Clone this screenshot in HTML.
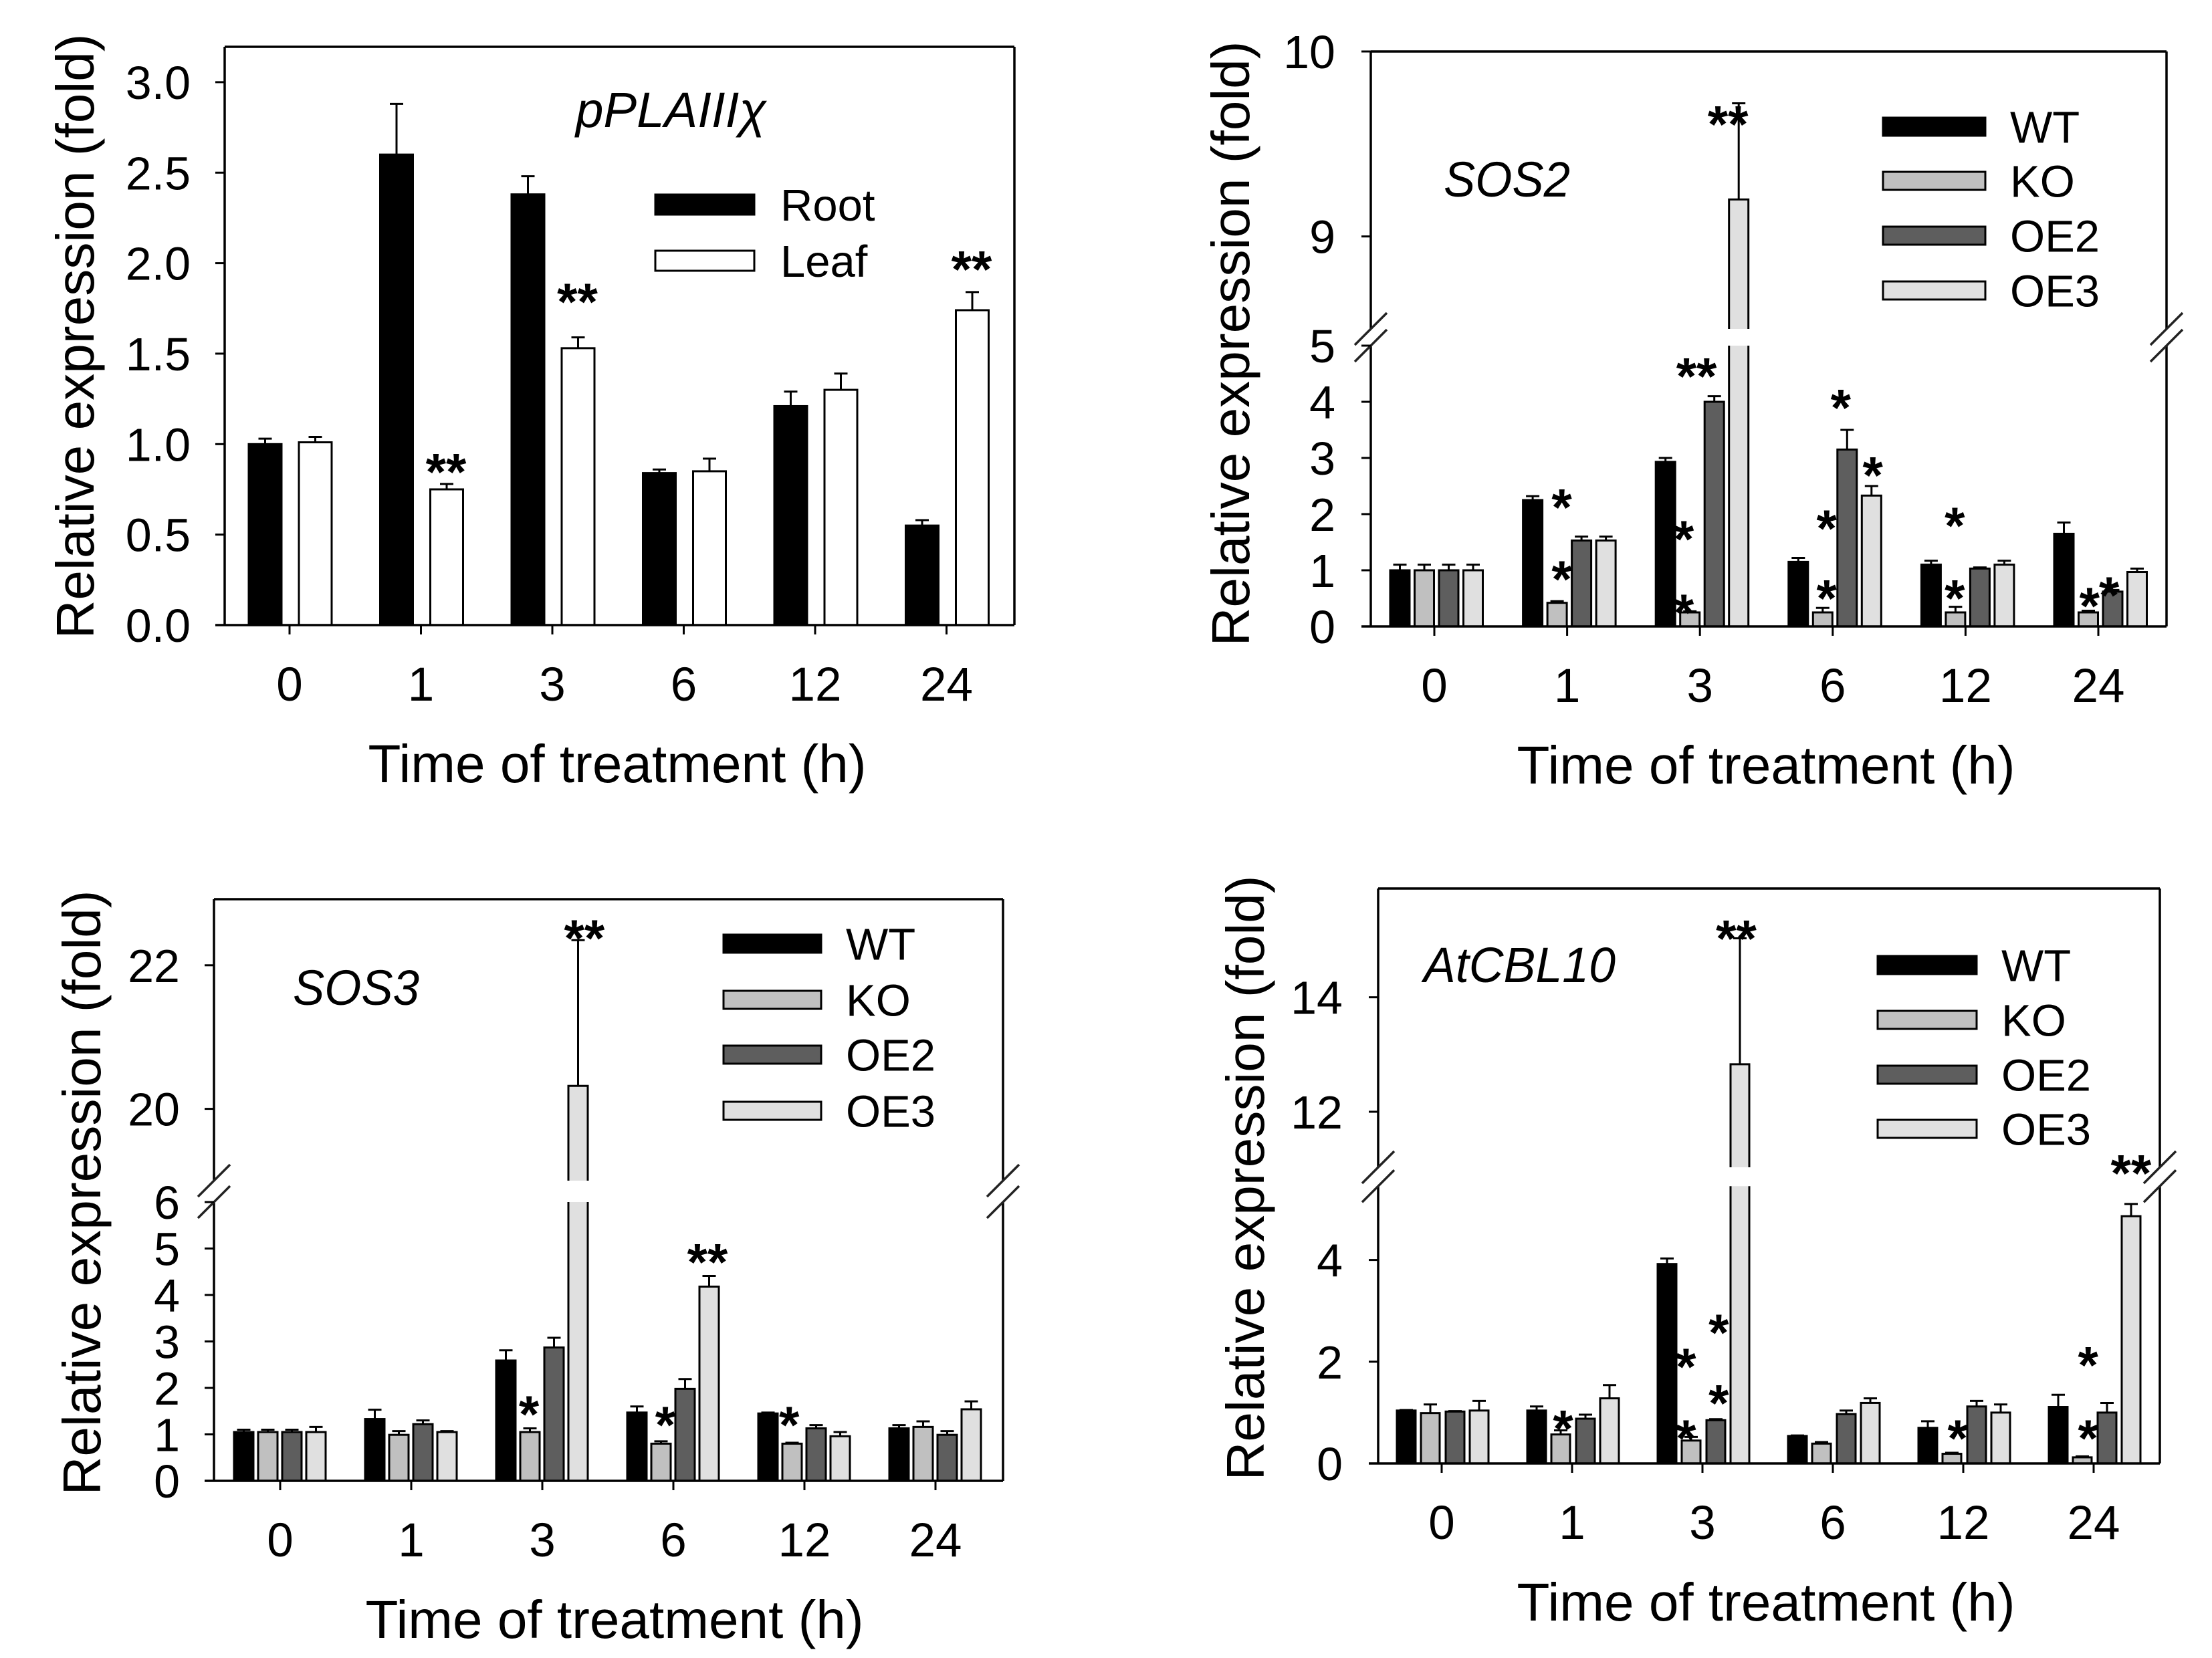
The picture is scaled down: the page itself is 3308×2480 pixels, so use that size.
<!DOCTYPE html>
<html><head><meta charset="utf-8"><style>
html,body{margin:0;padding:0;background:#fff;}
svg{display:block;}
text{font-family:"Liberation Sans",Arial,sans-serif;fill:#000;}
</style></head><body>
<svg id="fig" xmlns="http://www.w3.org/2000/svg" width="3308" height="2480" viewBox="0 0 3308 2480"></svg>
<script>
// ---------- DATA ----------
const categories = ['0','1','3','6','12','24'];

// Panel A: pPLAIIIχ
const pplaRoot    = [1.00, 2.60, 2.38, 0.84, 1.21, 0.55];
const pplaRootErr = [1.03, 2.88, 2.48, 0.86, 1.29, 0.58];
const pplaLeaf    = [1.01, 0.75, 1.53, 0.85, 1.30, 1.74];
const pplaLeafErr = [1.04, 0.78, 1.59, 0.92, 1.39, 1.84];
const pplaTicks   = [0, 0.5, 1.0, 1.5, 2.0, 2.5, 3.0];
const pplaTickLabels = ['0.0','0.5','1.0','1.5','2.0','2.5','3.0'];
const pplaStars = [[1,1,0.91,'**'],[2,1,1.85,'**'],[5,1,2.03,'**']];

// Panel B: SOS2
const sos2WT     = [1.00, 2.25, 2.93, 1.15, 1.10, 1.65];
const sos2WTErr  = [1.10, 2.32, 3.00, 1.22, 1.17, 1.85];
const sos2KO     = [1.00, 0.42, 0.25, 0.25, 0.25, 0.25];
const sos2KOErr  = [1.10, 0.45, 0.27, 0.33, 0.35, 0.28];
const sos2OE2    = [1.00, 1.53, 4.00, 3.15, 1.03, 0.62];
const sos2OE2Err = [1.10, 1.60, 4.10, 3.50, 1.05, 0.65];
const sos2OE3    = [1.00, 1.53, 9.20, 2.33, 1.10, 0.97];
const sos2OE3Err = [1.10, 1.60, 9.72, 2.50, 1.17, 1.03];
const sos2Ticks  = [0,1,2,3,4,5,9,10];
const sos2TickLabels = ['0','1','2','3','4','5','9','10'];
const sos2Stars = [[2,2.56,9.67,'**'],[1,1.19,2.33,'*'],[1,1.19,1.05,'*'],[2,1.27,4.66,'**'],[2,0.75,1.76,'*'],[2,0.75,0.45,'*'],
  [3,1.74,4.10,'*'],[3,1.16,1.95,'*'],[3,1.16,0.71,'*'],[3,3.05,2.90,'*'],[4,0.97,2.0,'*'],[4,0.97,0.71,'*'],[5,1.05,0.57,'*'],[5,1.85,0.76,'*']];

// Panel C: SOS3
const sos3WT     = [1.05, 1.33, 2.59, 1.47, 1.45, 1.13];
const sos3WTErr  = [1.10, 1.53, 2.81, 1.60, 1.47, 1.20];
const sos3KO     = [1.05, 0.99, 1.05, 0.80, 0.80, 1.16];
const sos3KOErr  = [1.10, 1.07, 1.13, 0.85, 0.82, 1.28];
const sos3OE2    = [1.05, 1.22, 2.87, 1.98, 1.13, 0.99];
const sos3OE2Err = [1.10, 1.30, 3.08, 2.19, 1.20, 1.07];
const sos3OE3    = [1.05, 1.05, 20.32, 4.18, 0.96, 1.54];
const sos3OE3Err = [1.16, 1.07, 22.35, 4.41, 1.05, 1.71];
const sos3Ticks  = [0,1,2,3,4,5,6,20,22];
const sos3TickLabels = ['0','1','2','3','4','5','6','20','22'];
const sos3Stars = [[2,3.26,22.54,'**'],[2,0.96,1.68,'*'],[3,2.93,4.96,'**'],[3,1.18,1.45,'*'],[4,0.88,1.45,'*']];

// Panel D: AtCBL10
const cblWT     = [1.04, 1.04, 3.92, 0.54, 0.70, 1.11];
const cblWTErr  = [1.05, 1.12, 4.03, 0.55, 0.83, 1.35];
const cblKO     = [0.99, 0.57, 0.45, 0.39, 0.19, 0.12];
const cblKOErr  = [1.16, 0.65, 0.52, 0.42, 0.21, 0.14];
const cblOE2    = [1.02, 0.88, 0.85, 0.97, 1.12, 1.00];
const cblOE2Err = [1.03, 0.96, 0.87, 1.04, 1.23, 1.19];
const cblOE3    = [1.04, 1.28, 12.83, 1.19, 1.00, 4.86];
const cblOE3Err = [1.23, 1.54, 15.03, 1.28, 1.16, 5.10];
const cblTicks  = [0,2,4,12,14];
const cblTickLabels = ['0','2','4','12','14'];
const cblStars = [[2,2.85,15.23,'**'],[1,1.09,0.91,'*'],[2,0.78,2.13,'*'],[2,0.78,0.72,'*'],[2,2.13,2.80,'*'],[2,2.13,1.41,'*'],
  [4,1.23,0.72,'*'],[5,1.23,2.16,'*'],[5,1.23,0.72,'*'],[5,3.0,5.93,'**']];

// ---------- DRAWING ----------
const NS='http://www.w3.org/2000/svg';
const fig=document.getElementById('fig');
function mk(tag,attrs,parent){const e=document.createElementNS(NS,tag);for(const k in attrs)e.setAttribute(k,attrs[k]);(parent||fig).appendChild(e);return e;}

function makeY(lo,hi){
  // lo/hi: {d0,d1,y0,y1}
  return function(v){
    if(!hi||v<hi.d0){return lo.y0+(v-lo.d0)*(lo.y1-lo.y0)/(lo.d1-lo.d0);}
    return hi.y0+(v-hi.d0)*(hi.y1-hi.y0)/(hi.d1-hi.d0);
  };
}

function drawPanel(P){
  const g=mk('g',{});
  
  
  const y=makeY(P.lo,P.hi);
  const xc=i=>P.cx0+i*P.step;
  // bars
  P.series.forEach((s,si)=>{
    s.vals.forEach((v,i)=>{
      const bx=xc(i)+P.offs[si];
      const top=y(v), base=y(0);
      const r=mk('rect',{x:bx,y:top,width:P.bw,height:base-top,fill:s.color,stroke:'#000','stroke-width':3},g);
      
      
      const ey=y(s.err[i]);
      const mx=bx+P.bw/2;
      const e=mk('path',{d:`M${mx},${top} V${ey} M${mx-10},${ey} H${mx+10}`,stroke:'#000','stroke-width':3,fill:'none'},g);
      
      
    });
  });
  // break gap white-out
  if(P.hi){
    const gt=P.hi.y0, gb=P.lo.y1;
    mk('rect',{x:P.left+3,y:gt,width:P.right-P.left-6,height:gb-gt,fill:'#fff'},g);
  }
  // frame
  const fw=3.5;
  mk('line',{x1:P.left-14,y1:P.bottom,x2:P.right,y2:P.bottom,stroke:'#000','stroke-width':fw},g);
  mk('line',{x1:P.left,y1:P.top,x2:P.right,y2:P.top,stroke:'#000','stroke-width':fw},g);
  if(P.hi){
    const gt=P.hi.y0, gb=P.lo.y1;
    [P.left,P.right].forEach(xx=>{
      mk('line',{x1:xx,y1:P.top,x2:xx,y2:gt,stroke:'#000','stroke-width':fw},g);
      mk('line',{x1:xx,y1:gb,x2:xx,y2:P.bottom,stroke:'#000','stroke-width':fw},g);
      [gt,gb].forEach(yy=>{
        const sl=mk('line',{x1:xx-24,y1:yy+24,x2:xx+24,y2:yy-24,stroke:'#222','stroke-width':3.5},g);
        
        
      });
    });
  } else {
    [P.left,P.right].forEach(xx=>mk('line',{x1:xx,y1:P.top,x2:xx,y2:P.bottom,stroke:'#000','stroke-width':fw},g));
  }
  // y ticks
  P.ticks.forEach((t,i)=>{
    const yy=y(t);
    mk('line',{x1:P.left-14,y1:yy,x2:P.left,y2:yy,stroke:'#000','stroke-width':3},g);
    const tx=mk('text',{x:P.tickRight,y:yy+25,'font-size':70,'text-anchor':'end'},g);
    tx.textContent=P.tickLabels[i];
    
    
  });
  // x ticks
  categories.forEach((c,i)=>{
    mk('line',{x1:xc(i),y1:P.bottom,x2:xc(i),y2:P.bottom+14,stroke:'#000','stroke-width':3},g);
    const tx=mk('text',{x:xc(i),y:P.bottom+113,'font-size':71,'text-anchor':'middle'},g);
    tx.textContent=c;
    
    
  });
  // stars
  P.stars.forEach(st=>{
    const sx=xc(st[0])+P.offs[0]+P.bw/2+st[1]*P.sstep;
    const sy=y(st[2]);
    const tx=mk('text',{x:sx,y:sy+44,'font-size':78,'font-weight':'bold','text-anchor':'middle'},g);
    tx.textContent=st[3];
    
    
  });
  // axis titles
  const xt=mk('text',{x:P.xtX,y:P.bottom+235,'font-size':80,'text-anchor':'middle',textLength:745,lengthAdjust:'spacingAndGlyphs'},g);
  xt.textContent='Time of treatment (h)';
  
  
  const yt=mk('text',{x:0,y:0,'font-size':80,'text-anchor':'middle',textLength:905,lengthAdjust:'spacingAndGlyphs',transform:`translate(${P.ytX},${P.ytY}) rotate(-90)`},g);
  yt.textContent='Relative expression (fold)';
  
  
  // gene title
  const gt2=mk('text',{x:P.title[0],y:P.title[1],'font-size':74,'font-style':'italic',textLength:P.title[2],lengthAdjust:'spacingAndGlyphs'},g);
  gt2.textContent=P.titleText;
  
  
  // legend
  P.series.forEach((s,si)=>{
    const ly=P.leg.y[si];
    const sw=mk('rect',{x:P.leg.x,y:ly,width:P.leg.w,height:P.leg.h,fill:s.color,stroke:'#000','stroke-width':3},g);
    
    
    const lt=mk('text',{x:P.leg.tx,y:ly+P.leg.h/2+24,'font-size':67},g);
    lt.textContent=s.label;
    
    
  });
}

const C={WT:'#000',KO:'#c0c0c0',OE2:'#5e5e5e',OE3:'#e0e0e0'};

drawPanel({name:'panel-ppla',left:336,right:1517,top:70,bottom:935,
  lo:{d0:0,d1:3.2,y0:935,y1:935-3.2*270.7},hi:null,
  cx0:433,step:196.5,offs:[-61,14],bw:49,sstep:74,
  series:[{label:'Root',vals:pplaRoot,err:pplaRootErr,color:'#000'},{label:'Leaf',vals:pplaLeaf,err:pplaLeafErr,color:'#fff'}],
  ticks:pplaTicks,tickLabels:pplaTickLabels,tickRight:285,stars:pplaStars.map(s=>[s[0],s[1],s[2],s[3]]),
  xtX:923,ytX:140,ytY:503,title:[861,190,285],titleText:'pPLAIIIχ',
  leg:{x:980,w:148,h:30,y:[291,375],tx:1167}});

drawPanel({name:'panel-sos2',left:2050,right:3240,top:77,bottom:937,
  lo:{d0:0,d1:5,y0:937,y1:517},hi:{d0:8.5,d1:10,y0:492,y1:77},
  cx0:2145,step:198.6,offs:[-66,-29.5,7,43.5],bw:29,sstep:36.5,
  series:[{label:'WT',vals:sos2WT,err:sos2WTErr,color:C.WT},{label:'KO',vals:sos2KO,err:sos2KOErr,color:C.KO},{label:'OE2',vals:sos2OE2,err:sos2OE2Err,color:C.OE2},{label:'OE3',vals:sos2OE3,err:sos2OE3Err,color:C.OE3}],
  ticks:sos2Ticks,tickLabels:sos2TickLabels,tickRight:1997,stars:sos2Stars,
  xtX:2641,ytX:1868,ytY:514,title:[2159,294,189],titleText:'SOS2',
  leg:{x:2816,w:153,h:27,y:[176,257,339,421],tx:3006}});

drawPanel({name:'panel-sos3',left:320,right:1500,top:1345,bottom:2215,
  lo:{d0:0,d1:6,y0:2215,y1:1798},hi:{d0:19,d1:22.92,y0:1766,y1:1345},
  cx0:419,step:196,offs:[-69,-33,3,39],bw:29,sstep:36,
  series:[{label:'WT',vals:sos3WT,err:sos3WTErr,color:C.WT},{label:'KO',vals:sos3KO,err:sos3KOErr,color:C.KO},{label:'OE2',vals:sos3OE2,err:sos3OE2Err,color:C.OE2},{label:'OE3',vals:sos3OE3,err:sos3OE3Err,color:C.OE3}],
  ticks:sos3Ticks,tickLabels:sos3TickLabels,tickRight:269,stars:sos3Stars,
  xtX:919,ytX:150,ytY:1784,title:[438,1503,189],titleText:'SOS3',
  leg:{x:1082,w:146,h:27,y:[1398,1482,1564,1648],tx:1265}});

drawPanel({name:'panel-atcbl10',left:2061,right:3230,top:1329,bottom:2189,
  lo:{d0:0,d1:5.45,y0:2189,y1:2189-5.45*76.1},hi:{d0:11.03,d1:15.9,y0:1746,y1:1329},
  cx0:2156,step:195,offs:[-67,-31,6,42],bw:28,sstep:36.3,
  series:[{label:'WT',vals:cblWT,err:cblWTErr,color:C.WT},{label:'KO',vals:cblKO,err:cblKOErr,color:C.KO},{label:'OE2',vals:cblOE2,err:cblOE2Err,color:C.OE2},{label:'OE3',vals:cblOE3,err:cblOE3Err,color:C.OE3}],
  ticks:cblTicks,tickLabels:cblTickLabels,tickRight:2008,stars:cblStars,
  xtX:2641,ytX:1890,ytY:1762,title:[2129,1469,287],titleText:'AtCBL10',
  leg:{x:2808,w:148,h:27,y:[1430,1512,1594,1675],tx:2993}});
</script>
</body></html>
